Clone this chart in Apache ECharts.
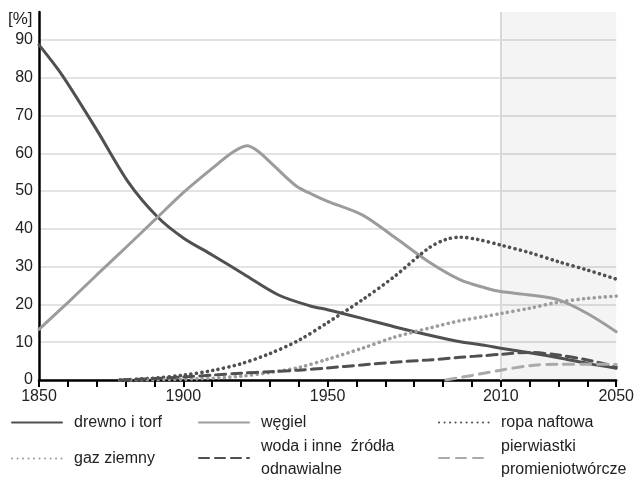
<!DOCTYPE html>
<html>
<head>
<meta charset="utf-8">
<script src="https://cdn.jsdelivr.net/npm/echarts@6/dist/echarts.min.js"></script>
<style>
  html, body { margin: 0; padding: 0; background: #fff; }
  #chart { width: 637px; height: 478px; }
</style>
</head>
<body>
<div id="chart"></div>
<script>
// lata z podpisami na osi X
var yearLabels = [1850, 1900, 1950, 2010, 2050];

// udział [%] – [rok, wartość]
var drewno = [[1850,88.7],[1858,80.7],[1870,66.2],[1881,52.3],[1891,43.2],[1900,37.6],[1910,33.1],[1921,28.0],[1933,22.5],[1944,19.6],[1950,18.6],[1962,16.3],[1973,14.1],[1985,11.9],[1996,10.1],[2005,9.1],[2010,8.4],[2020,7.2],[2030,5.9],[2040,4.4],[2050,3.1]];
var wegiel = [[1850,13.4],[1860,20.5],[1870,27.8],[1880,35.0],[1890,42.3],[1900,49.6],[1910,56.0],[1917,60.2],[1922,62.0],[1926,60.5],[1931,57.0],[1939,51.4],[1945,49.0],[1950,47.3],[1962,43.7],[1973,37.9],[1985,31.3],[1996,26.5],[2005,24.3],[2010,23.4],[2020,22.5],[2030,21.2],[2040,17.6],[2050,12.8]];
var ropa = [[1878,0],[1890,0.5],[1900,1.3],[1910,2.5],[1920,4.3],[1930,7.0],[1940,10.5],[1950,15.2],[1962,21.2],[1973,27.3],[1985,34.9],[1991,37.2],[1996,37.8],[2002,37.2],[2010,35.7],[2020,33.7],[2030,31.3],[2040,29.1],[2050,26.7]];
var gaz = [[1878,0],[1905,0.3],[1920,1.0],[1930,2.0],[1940,3.3],[1950,5.5],[1962,8.4],[1973,11.3],[1985,13.7],[1996,15.7],[2005,16.9],[2010,17.6],[2020,19.0],[2030,20.6],[2040,21.6],[2050,22.2]];
var woda = [[1878,0],[1890,0.4],[1900,0.8],[1910,1.3],[1920,1.8],[1930,2.2],[1940,2.6],[1950,3.2],[1962,4.0],[1973,4.7],[1985,5.3],[1996,6.0],[2005,6.5],[2010,6.8],[2020,7.3],[2030,6.6],[2040,5.3],[2050,3.5]];
var pierwiastki = [[1991,0],[2000,1.2],[2005,1.9],[2010,2.6],[2020,3.8],[2030,4.2],[2040,4.2],[2050,4.1]];

// prognoza
var forecastStart = 2010, forecastEnd = 2050;

var FONT = '"Liberation Sans", Arial, sans-serif';
var DARK = '#505050', LIGHT = '#9c9c9c';

var chart = echarts.init(document.getElementById('chart'));

function lineSeries(name, data, color, type, width, extra) {
    var s = {
        name: name,
        type: 'line',
        data: data,
        smooth: 0.3,
        symbol: 'none',
        lineStyle: { color: color, width: width, type: type, cap: 'round' },
        itemStyle: { color: color },
        z: 3
    };
    for (var k in extra) s[k] = extra[k];
    return s;
}

function legendAt(name, left, top) {
    return {
        data: [name],
        left: left,
        top: top,
        padding: 0,
        itemWidth: 50,
        itemHeight: 14,
        selectedMode: false,
        itemStyle: { opacity: 0 },
        textStyle: { fontFamily: FONT, fontSize: 16, color: '#222', lineHeight: 23, padding: [0, 0, 0, 7] }
    };
}

var option = {
    animation: false,
    title: {
        text: '[%]', left: 8, top: 11, padding: 0,
        textStyle: { fontFamily: FONT, fontSize: 17, fontWeight: 'normal', color: '#222' }
    },
    grid: { left: 39, right: 17, top: 12, bottom: 98 },
    legend: [
        legendAt('drewno i torf', 11, 411),
        legendAt('węgiel', 198, 411),
        legendAt('ropa naftowa', 438, 411),
        legendAt('gaz ziemny', 11, 447),
        legendAt('woda i inne  źródła\nodnawialne', 198, 435),
        legendAt('pierwiastki\npromieniotwórcze', 438, 435)
    ],
    xAxis: {
        type: 'value',
        min: 1850, max: 2050, interval: 10,
        axisLine: { lineStyle: { color: '#000', width: 2.5 } },
        axisTick: { show: true, length: 7, lineStyle: { color: '#000', width: 2 } },
        splitLine: { show: false },
        axisLabel: {
            fontFamily: FONT, fontSize: 16, color: '#222', margin: 9,
            showMaxLabel: true, showMinLabel: true,
            formatter: function (v) { return yearLabels.indexOf(v) >= 0 ? String(v) : ''; }
        }
    },
    yAxis: {
        type: 'value',
        min: 0, max: 97.4, interval: 10,
        axisLine: { show: true, lineStyle: { color: '#000', width: 2.5 } },
        axisTick: { show: false },
        splitLine: { show: true, showMaxLine: false, lineStyle: { color: '#e3e3e3', width: 2 } },
        axisLabel: {
            fontFamily: FONT, fontSize: 16, color: '#222', margin: 6,
            showMaxLabel: false,
            formatter: function (v) { return v <= 90 ? String(v) : ''; }
        }
    },
    series: [
        lineSeries('drewno i torf', drewno, DARK, 'solid', 3, {
            markArea: {
                silent: true, z: 1,
                itemStyle: { color: 'rgba(0,0,0,0.045)' },
                data: [[{ xAxis: forecastStart }, { xAxis: forecastEnd }]]
            },
            markLine: {
                silent: true, symbol: 'none', z: 1,
                label: { show: false },
                lineStyle: { color: '#d8d8d8', width: 2, type: 'solid' },
                data: [{ xAxis: forecastStart }]
            }
        }),
        lineSeries('węgiel', wegiel, LIGHT, 'solid', 3),
        lineSeries('ropa naftowa', ropa, DARK, [0.1, 5.4], 3.6),
        lineSeries('gaz ziemny', gaz, LIGHT, [0.1, 5.4], 3.6),
        lineSeries('woda i inne  źródła\nodnawialne', woda, DARK, [10, 6], 3),
        lineSeries('pierwiastki\npromieniotwórcze', pierwiastki, '#aaaaaa', [10, 7], 3)
    ]
};

chart.setOption(option);
</script>
</body>
</html>
